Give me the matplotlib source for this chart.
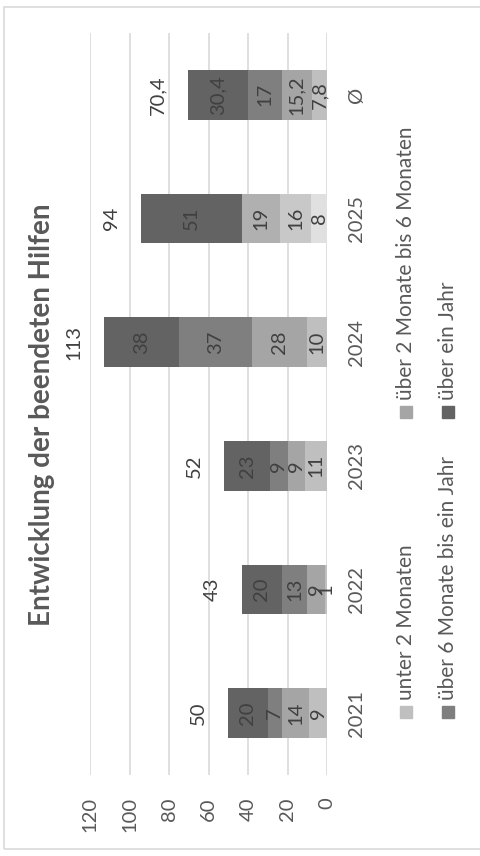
import matplotlib.pyplot as plt
from matplotlib.patches import Rectangle
import numpy as np

plt.rcParams['font.family'] = ['Lato', 'DejaVu Sans']

# Daten
kategorien = ['2021', '2022', '2023', '2024', '2025', 'Ø']
serien = ['unter 2 Monaten', 'über 2 Monate bis 6 Monaten',
          'über 6 Monate bis ein Jahr', 'über ein Jahr']
unter_2 = [9, 1, 11, 10, 8, 7.8]
zwei_bis_6 = [14, 9, 9, 28, 16, 15.2]
sechs_bis_jahr = [7, 13, 9, 37, 19, 17]
ueber_jahr = [20, 20, 23, 38, 51, 30.4]
werte = [unter_2, zwei_bis_6, sechs_bis_jahr, ueber_jahr]

farben = ['#bfbfbf', '#a5a5a5', '#7f7f7f', '#636363']
farben_2025 = ['#e0e0e0', '#c8c8c8', '#b0b0b0', '#636363']
textfarbe = '#595959'
labelfarbe = '#404040'

W, H = 480, 856
fig = plt.figure(figsize=(W / 100, H / 100), dpi=100)
ax = fig.add_axes([90 / W, (H - 775) / H, (327 - 90) / W, (775 - 33) / H])

y = np.arange(len(kategorien))
links = np.zeros(len(kategorien))
for i, reihe in enumerate(werte):
    cols = [farben_2025[i] if k == '2025' else farben[i] for k in kategorien]
    ax.barh(y, reihe, left=links, height=0.4, color=cols, zorder=2)
    for yi, (l, v) in enumerate(zip(links, reihe)):
        txt = f'{v:g}'.replace('.', ',')
        ax.text(l + v / 2, yi, txt, rotation=90, ha='center', va='center',
                fontsize=14.5, color=labelfarbe, zorder=3)
    links = links + np.array(reihe)

for yi, s in enumerate(links):
    txt = f'{round(s, 1):g}'.replace('.', ',')
    ax.text(s + 15.3, yi, txt, rotation=90, ha='center', va='center',
            fontsize=14.5, color=labelfarbe)

ax.set_xlim(120, 0)
ax.set_ylim(-0.5, len(kategorien) - 0.5)
ax.set_xticks(np.arange(0, 121, 20))
ax.set_xticklabels([str(t) for t in range(0, 121, 20)], rotation=90)
ax.set_yticks(y)
ax.set_yticklabels(kategorien, rotation=90, va='center')
ax.yaxis.tick_right()
ax.tick_params(axis='x', length=0, pad=16, labelsize=14.5, labelcolor=textfarbe)
ax.tick_params(axis='y', length=0, pad=15, labelsize=14.5, labelcolor=textfarbe)
ax.grid(axis='x', color='#d9d9d9', linewidth=1.2, zorder=0)
ax.set_axisbelow(True)
for sp in ax.spines.values():
    sp.set_visible(False)

fig.text(42 / W, (H - 415) / H, 'Entwicklung der beendeten Hilfen', rotation=90,
         ha='center', va='center', fontsize=20, fontweight='bold', color=textfarbe)

# Legende (gedreht)
pos = [(406, 712), (406, 412), (448, 712), (448, 412)]
for (px, py), name, c in zip(pos, serien, farben):
    fig.add_artist(Rectangle(((px - 6) / W, (H - py - 6) / H), 12 / W, 12 / H,
                             transform=fig.transFigure, color=c))
    fig.text(px / W, (H - py + 12) / H, name, rotation=90, ha='center',
             va='bottom', fontsize=15, color=textfarbe)

fig.add_artist(Rectangle((4 / W, 7 / H), 500 / W, 842 / H, fill=False,
                         edgecolor='#d9d9d9', linewidth=1.2,
                         transform=fig.transFigure))

fig.savefig('out.png', dpi=100)
